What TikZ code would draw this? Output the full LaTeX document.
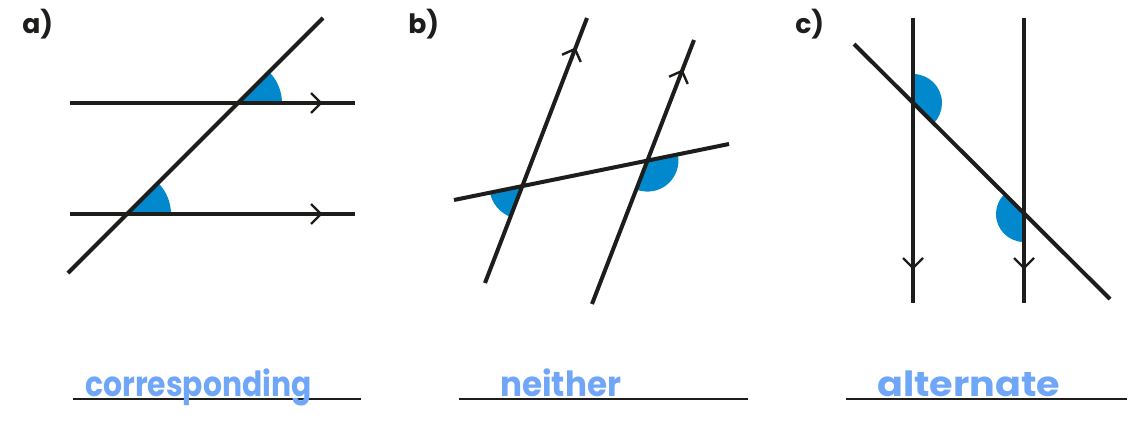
\documentclass[tikz,border=0pt]{standalone}
\usepackage{fontspec}
\usepackage{graphicx}
\newfontfamily\labfont{Poppins}
\newfontfamily\handfont{Poppins}
\definecolor{ink}{HTML}{1D1D1B}
\definecolor{wedgeblue}{HTML}{0288CC}
\definecolor{hand}{RGB}{111,166,247}
\newcommand{\handtext}[2]{\scalebox{#1}[1]{#2}}
\tikzset{
 mainline/.style={draw=ink,line width=3pt},
 chevron/.style={draw=ink,line width=1.8pt,line join=miter},
 wedgefill/.style={fill=wedgeblue},
 answerline/.style={draw=ink,line width=1.5pt},
 paneltag/.style={font=\labfont\bfseries\fontsize{20}{20}\selectfont,text=ink,anchor=base west,inner sep=0},
 answer/.style={font=\handfont\bfseries\fontsize{26}{26}\selectfont,text=hand,anchor=base west,inner sep=0},
}
\begin{document}
\begin{tikzpicture}[x=0.75pt,y=-0.75pt]
\useasboundingbox (0,0) rectangle (1129,421);

% ---------- panel a ----------
\node[paneltag] (ta) at (22,33) {a)};
\coordinate (aT1) at (68,273);  \coordinate (aT2) at (323,18);
\coordinate (aU1) at (70,103);  \coordinate (aU2) at (355,103);
\coordinate (aL1) at (70,214);  \coordinate (aL2) at (355,214);
\coordinate (aX1) at (238,103); \coordinate (aX2) at (127,214);
\coordinate (aC1) at (321,103); \coordinate (aC2) at (321,214);
\fill[wedgefill] (aX1) -- ++(-45:44) arc[start angle=-45,end angle=0,radius=44] -- cycle;
\fill[wedgefill] (aX2) -- ++(-45:44) arc[start angle=-45,end angle=0,radius=44] -- cycle;
\draw[mainline] (aU1) -- (aU2);
\draw[mainline] (aL1) -- (aL2);
\draw[mainline] (aT1) -- (aT2);
\draw[chevron,shift={(aC1)}] (-10,-10) -- (0,0) -- (-10,10);
\draw[chevron,shift={(aC2)}] (-10,-10) -- (0,0) -- (-10,10);

% ---------- panel b ----------
\node[paneltag] (tb) at (408,33) {b)};
\coordinate (bP1) at (485,283); \coordinate (bP2) at (587,18);
\coordinate (bQ1) at (592,304); \coordinate (bQ2) at (694,40);
\coordinate (bT1) at (454,200); \coordinate (bT2) at (729,144);
\coordinate (bX1) at (522.3,186.1); \coordinate (bX2) at (647.4,160.6);
\coordinate (bC1) at (575,49); \coordinate (bC2) at (682,71);
\fill[wedgefill] (bX1) -- ++(111.05:33) arc[start angle=111.05,end angle=168.49,radius=33] -- cycle;
\fill[wedgefill] (bX2) -- ++(-11.51:31) arc[start angle=-11.51,end angle=111.13,radius=31] -- cycle;
\draw[mainline] (bP1) -- (bP2);
\draw[mainline] (bQ1) -- (bQ2);
\draw[mainline] (bT1) -- (bT2);
\draw[chevron,shift={(bC1)},rotate=68.95] (-10,-10) -- (0,0) -- (-10,10);
\draw[chevron,shift={(bC2)},rotate=68.87] (-10,-10) -- (0,0) -- (-10,10);

% ---------- panel c ----------
\node[paneltag] (tc) at (795,33) {c)};
\coordinate (cV1) at (913,18);  \coordinate (cV2) at (913,303);
\coordinate (cW1) at (1024,18); \coordinate (cW2) at (1024,303);
\coordinate (cT1) at (854,44);  \coordinate (cT2) at (1110,299);
\coordinate (cX1) at (913,103); \coordinate (cX2) at (1024,214);
\coordinate (cC1) at (913,268); \coordinate (cC2) at (1024,268);
\fill[wedgefill] (cX1) -- ++(-90:29) arc[start angle=-90,end angle=45,radius=29] -- cycle;
\fill[wedgefill] (cX2) -- ++(90:28) arc[start angle=90,end angle=225,radius=28] -- cycle;
\draw[mainline] (cV1) -- (cV2);
\draw[mainline] (cW1) -- (cW2);
\draw[mainline] (cT1) -- (cT2);
\draw[chevron,shift={(cC1)},rotate=-90] (-10,-10) -- (0,0) -- (-10,10);
\draw[chevron,shift={(cC2)},rotate=-90] (-10,-10) -- (0,0) -- (-10,10);

% ---------- answers ----------
\coordinate (l1a) at (73,399);  \coordinate (l1b) at (361,399);
\coordinate (l2a) at (459,399); \coordinate (l2b) at (748,399);
\coordinate (l3a) at (846,399); \coordinate (l3b) at (1127,399);
\draw[answerline] (l1a) -- (l1b);
\draw[answerline] (l2a) -- (l2b);
\draw[answerline] (l3a) -- (l3b);
\node[answer] (ans1) at (85,396) {\handtext{0.86}{corresponding}};
\node[answer] (ans2) at (500,396) {\handtext{0.94}{neither}};
\node[answer] (ans3) at (877,396) {\handtext{1.10}{alternate}};
\end{tikzpicture}
\end{document}
